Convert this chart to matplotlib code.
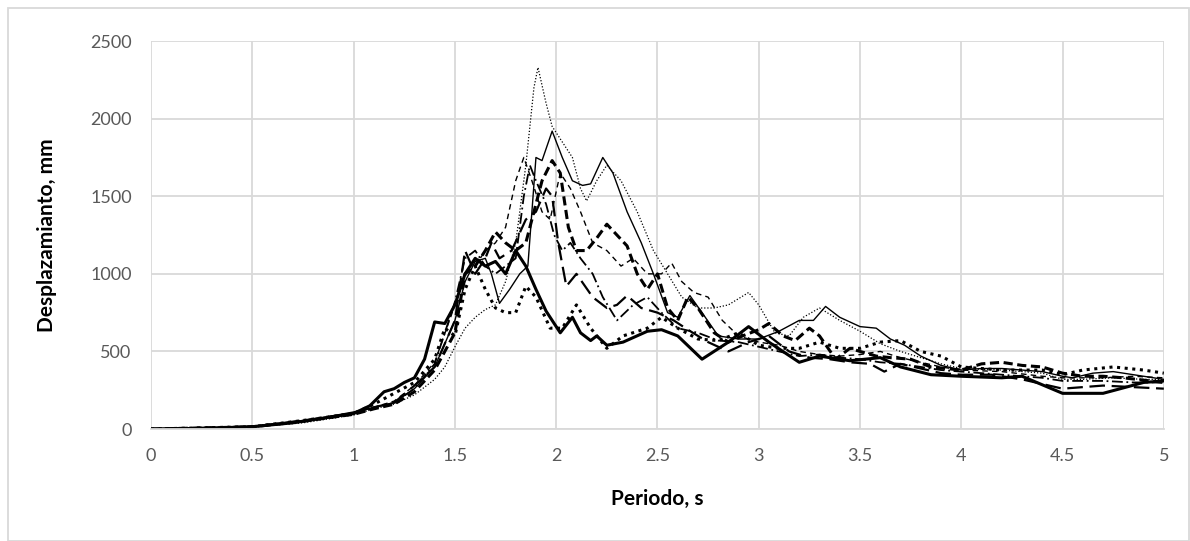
import matplotlib.pyplot as plt
from matplotlib.patches import Rectangle

plt.rcParams['font.family'] = ['Lato', 'DejaVu Sans']

# spectra: period (s) and displacement (mm)
s1_x = [0, 0.25, 0.5, 0.7, 0.85, 1.0, 1.08, 1.15, 1.2, 1.25, 1.3, 1.35, 1.4, 1.45, 1.5, 1.55, 1.6, 1.65, 1.7, 1.75, 1.8, 1.85, 1.9, 1.95, 2.02, 2.08, 2.12, 2.17, 2.2, 2.25, 2.33, 2.45, 2.52, 2.6, 2.72, 2.85, 2.95, 3.05, 3.2, 3.3, 3.45, 3.6, 3.7, 3.85, 4.0, 4.2, 4.3, 4.5, 4.7, 4.9, 5.0]
s1_y = [0, 4, 15, 40, 70, 100, 150, 240, 260, 300, 330, 450, 690, 680, 800, 1000, 1100, 1050, 1080, 1000, 1150, 1050, 900, 760, 620, 720, 620, 570, 600, 540, 560, 630, 640, 600, 450, 560, 660, 560, 430, 470, 440, 460, 400, 350, 340, 330, 340, 230, 230, 300, 310]

s2_x = [0, 0.5, 0.75, 1.0, 1.1, 1.2, 1.3, 1.4, 1.45, 1.5, 1.55, 1.6, 1.65, 1.7, 1.75, 1.8, 1.85, 1.9, 1.97, 2.03, 2.1, 2.17, 2.25, 2.33, 2.45, 2.52, 2.6, 2.7, 2.8, 2.9, 3.0, 3.1, 3.2, 3.3, 3.4, 3.5, 3.6, 3.7, 3.8, 3.9, 4.0, 4.2, 4.4, 4.5, 4.6, 4.75, 4.9, 5.0]
s2_y = [0, 15, 55, 100, 160, 230, 300, 450, 650, 600, 900, 1050, 900, 780, 750, 750, 920, 850, 650, 650, 800, 650, 520, 600, 650, 720, 650, 580, 570, 620, 540, 520, 520, 560, 520, 520, 560, 570, 500, 470, 400, 380, 380, 350, 380, 400, 380, 360]

s3_x = [0, 0.5, 0.75, 1.0, 1.1, 1.2, 1.3, 1.4, 1.5, 1.55, 1.6, 1.65, 1.68, 1.72, 1.77, 1.82, 1.86, 1.9, 1.93, 1.98, 2.03, 2.08, 2.13, 2.17, 2.23, 2.28, 2.35, 2.42, 2.48, 2.55, 2.6, 2.66, 2.72, 2.8, 2.9, 3.0, 3.1, 3.2, 3.27, 3.33, 3.4, 3.5, 3.58, 3.65, 3.72, 3.8, 3.9, 4.0, 4.1, 4.2, 4.3, 4.4, 4.5, 4.55, 4.65, 4.75, 4.85, 5.0]
s3_y = [0, 14, 50, 110, 140, 170, 260, 400, 700, 950, 1080, 1100, 1000, 810, 900, 1000, 1050, 1750, 1730, 1920, 1750, 1600, 1570, 1580, 1750, 1650, 1400, 1200, 1000, 750, 720, 860, 750, 600, 580, 580, 630, 700, 700, 790, 720, 660, 650, 580, 540, 470, 410, 380, 390, 390, 380, 370, 340, 330, 360, 370, 350, 320]

s4_x = [0, 0.5, 0.75, 1.0, 1.1, 1.2, 1.3, 1.4, 1.45, 1.5, 1.55, 1.6, 1.65, 1.7, 1.75, 1.8, 1.85, 1.89, 1.91, 1.95, 1.98, 2.03, 2.08, 2.12, 2.15, 2.2, 2.25, 2.32, 2.4, 2.48, 2.55, 2.62, 2.7, 2.78, 2.85, 2.95, 3.0, 3.08, 3.15, 3.22, 3.3, 3.4, 3.5, 3.6, 3.7, 3.8, 3.9, 4.0, 4.2, 4.4, 4.5, 4.6, 4.75, 4.9, 5.0]
s4_y = [0, 12, 40, 90, 130, 160, 220, 320, 400, 530, 650, 720, 770, 800, 950, 1200, 1700, 2200, 2330, 2100, 1950, 1850, 1750, 1550, 1470, 1600, 1700, 1600, 1400, 1150, 1000, 850, 780, 780, 800, 880, 800, 620, 600, 720, 780, 700, 630, 550, 500, 460, 420, 390, 380, 360, 320, 320, 330, 320, 320]

s5_x = [0, 0.5, 0.75, 1.0, 1.1, 1.2, 1.3, 1.4, 1.5, 1.55, 1.6, 1.65, 1.7, 1.75, 1.8, 1.85, 1.88, 1.93, 1.98, 2.02, 2.06, 2.1, 2.15, 2.2, 2.25, 2.3, 2.35, 2.4, 2.45, 2.5, 2.55, 2.6, 2.65, 2.7, 2.78, 2.85, 2.92, 3.0, 3.05, 3.12, 3.18, 3.25, 3.3, 3.38, 3.45, 3.5, 3.58, 3.65, 3.75, 3.85, 4.0, 4.1, 4.2, 4.3, 4.4, 4.5, 4.6, 4.7, 4.8, 5.0]
s5_y = [0, 14, 50, 95, 130, 160, 240, 380, 620, 1000, 1050, 1150, 1270, 1200, 1150, 1200, 1350, 1600, 1730, 1650, 1300, 1150, 1150, 1230, 1320, 1250, 1180, 1000, 900, 1000, 780, 700, 850, 780, 620, 560, 600, 640, 680, 600, 570, 650, 600, 450, 520, 500, 470, 460, 450, 400, 380, 420, 430, 410, 400, 360, 340, 340, 330, 300]

s6_x = [0, 0.5, 0.75, 1.0, 1.1, 1.2, 1.3, 1.4, 1.5, 1.55, 1.6, 1.65, 1.68, 1.72, 1.78, 1.85, 1.9, 1.95, 1.98, 2.01, 2.05, 2.1, 2.18, 2.25, 2.3, 2.35, 2.42, 2.5, 2.58, 2.65, 2.75, 2.85, 2.95, 3.05, 3.15, 3.25, 3.35, 3.45, 3.55, 3.62, 3.7, 3.8, 3.9, 4.0, 4.15, 4.3, 4.4, 4.5, 4.6, 4.7, 4.85, 5.0]
s6_y = [0, 15, 55, 100, 140, 170, 280, 400, 700, 1150, 1000, 1100, 1200, 1100, 1150, 1350, 1400, 1550, 1500, 1200, 920, 1000, 850, 780, 800, 860, 780, 750, 700, 640, 560, 500, 560, 600, 500, 460, 450, 430, 420, 370, 420, 390, 360, 350, 350, 320, 290, 260, 270, 280, 270, 260]

s7_x = [0, 0.5, 0.75, 1.0, 1.2, 1.3, 1.4, 1.5, 1.55, 1.6, 1.65, 1.7, 1.75, 1.8, 1.84, 1.87, 1.9, 1.95, 1.99, 2.03, 2.07, 2.12, 2.18, 2.23, 2.3, 2.38, 2.45, 2.52, 2.6, 2.7, 2.8, 2.9, 3.0, 3.1, 3.2, 3.3, 3.4, 3.5, 3.6, 3.7, 3.8, 3.9, 4.0, 4.2, 4.4, 4.5, 4.7, 4.85, 5.0]
s7_y = [0, 14, 50, 100, 170, 260, 420, 820, 1100, 1150, 1050, 1000, 1050, 1100, 1500, 1700, 1600, 1450, 1250, 1150, 1200, 1100, 1000, 850, 700, 800, 850, 750, 650, 620, 570, 560, 530, 500, 470, 480, 460, 450, 430, 420, 400, 380, 370, 350, 330, 310, 310, 300, 300]

s8_x = [0, 0.5, 0.75, 1.0, 1.2, 1.3, 1.4, 1.5, 1.55, 1.6, 1.65, 1.7, 1.75, 1.8, 1.84, 1.88, 1.93, 1.97, 2.02, 2.07, 2.12, 2.18, 2.25, 2.32, 2.38, 2.45, 2.52, 2.57, 2.62, 2.68, 2.75, 2.82, 2.9, 3.0, 3.1, 3.2, 3.3, 3.4, 3.5, 3.6, 3.7, 3.8, 3.9, 4.0, 4.2, 4.4, 4.5, 4.7, 4.85, 5.0]
s8_y = [0, 14, 55, 100, 180, 280, 430, 800, 1000, 1050, 1150, 1200, 1300, 1600, 1750, 1600, 1400, 1350, 1650, 1550, 1400, 1200, 1150, 1050, 1100, 1000, 1000, 1070, 950, 880, 850, 700, 600, 560, 540, 500, 480, 470, 480, 500, 460, 430, 400, 380, 370, 340, 330, 330, 340, 330]

x_ticks = [0, 0.5, 1, 1.5, 2, 2.5, 3, 3.5, 4, 4.5, 5]
y_ticks = [0, 500, 1000, 1500, 2000, 2500]

fig = plt.figure(figsize=(11.9, 5.41), dpi=100)
ax = fig.add_axes([0.127, 0.207, 0.851, 0.717])

ax.plot(s4_x, s4_y, c="k", lw=0.9, ls=(0, (1, 1.5)))
ax.plot(s3_x, s3_y, c="k", lw=1.0, ls="-")
ax.plot(s8_x, s8_y, c="k", lw=1.0, ls=(0, (4, 3)))
ax.plot(s7_x, s7_y, c="k", lw=1.3, ls=(0, (6, 2, 1, 2)))
ax.plot(s6_x, s6_y, c="k", lw=1.6, ls=(0, (7, 3)))
ax.plot(s5_x, s5_y, c="k", lw=2.2, ls=(0, (3, 1.5)))
ax.plot(s2_x, s2_y, c="k", lw=2.2, ls=(0, (1, 1.5)))
ax.plot(s1_x, s1_y, c="k", lw=2.2, ls="-", solid_joinstyle="round")

ax.set_xlim(0, 5)
ax.set_ylim(0, 2500)
ax.set_xticks(x_ticks)
ax.set_xticklabels([f"{v:g}" for v in x_ticks])
ax.set_yticks(y_ticks)
ax.grid(True, color="#d9d9d9", lw=1.3)
ax.set_axisbelow(True)
for side in ["left", "top", "right"]:
  ax.spines[side].set_visible(False)
ax.spines["bottom"].set_color("#d9d9d9")
ax.spines["bottom"].set_linewidth(1.3)
ax.tick_params(length=0, labelsize=13, labelcolor="#595959", pad=14)

ax.set_xlabel("Periodo, s", fontsize=15, weight="bold", labelpad=18)
ax.set_ylabel("Desplazamianto, mm", fontsize=15, weight="bold", labelpad=24)

# chart area border
fig.patches.append(Rectangle((0.007, 0.0), 0.992, 0.985, transform=fig.transFigure,
                             fill=False, edgecolor="#d9d9d9", lw=1.3))

fig.savefig("out.png", dpi=100)
